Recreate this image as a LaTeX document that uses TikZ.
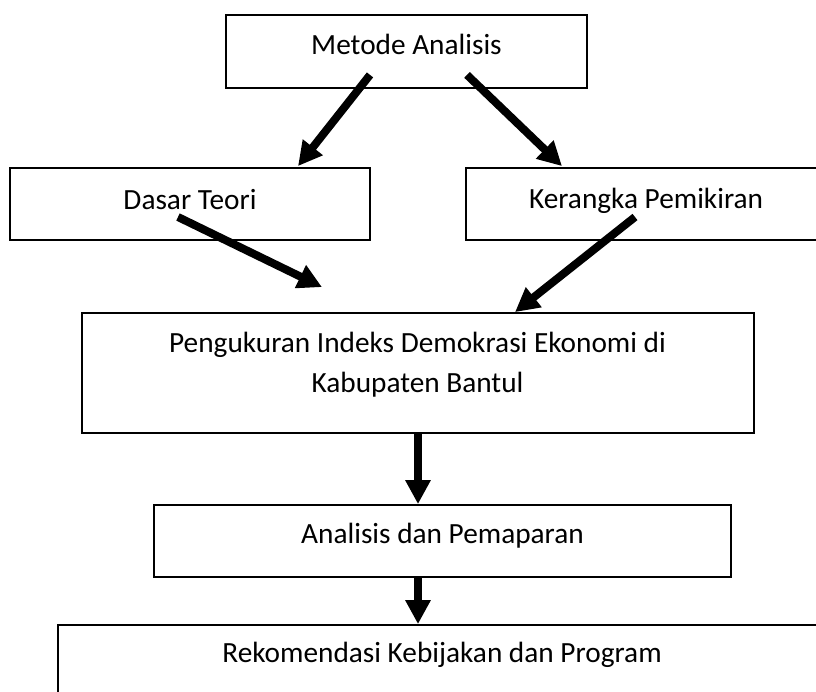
\documentclass[tikz,border=0pt]{standalone}
\usepackage{fontspec}
\setmainfont{Carlito}
\usetikzlibrary{arrows.meta}
\begin{document}
\begin{tikzpicture}[x=1pt,y=-1pt,
  box/.style={draw=black, line width=1.8pt, inner sep=0pt, fill=none},
  txt/.style={inner sep=0pt, anchor=base, align=center, font=\fontsize{29.3}{40}\selectfont},
  arr/.style={line width=8pt, -{Triangle[length=24pt,width=24pt]}}]
\path[use as bounding box, clip] (0,0) rectangle (816,691);
\fill[white] (0,0) rectangle (816,691);
% boxes
\node[box, minimum width=361pt, minimum height=73pt] (m) at (406.5,51.5) {};
\node[box, minimum width=360pt, minimum height=72pt] (d) at (190,204) {};
\node[box, minimum width=360pt, minimum height=72pt] (k) at (646,204) {};
\node[box, minimum width=672pt, minimum height=120pt] (p) at (418,373) {};
\node[box, minimum width=577pt, minimum height=72pt] (a) at (442.5,541) {};
\node[box, minimum width=768pt, minimum height=73pt] (r) at (442,661.5) {};
% texts
\node[txt] (mt) at (406.5,54) {Metode Analisis};
\node[txt] (dt) at (190,209) {Dasar Teori};
\node[txt] (kt) at (646,208) {Kerangka Pemikiran};
\node[txt] (pt) at (417.5,392) {Pengukuran Indeks Demokrasi Ekonomi di\\Kabupaten Bantul};
\node[txt] (at) at (442.5,543) {Analisis dan Pemaparan};
\node[txt] (rt) at (442,662) {Rekomendasi Kebijakan dan Program};
% arrows
\draw[arr] ([shift={(-36.5,-14)}]m.south) -- ([shift={(108,-1)}]d.north);
\draw[arr] ([shift={(60.5,-14)}]m.south) -- ([shift={(-84,-1)}]k.north);
\draw[arr] ([shift={(-12,13)}]d.center) -- ([shift={(-96,-25)}]p.north);
\draw[arr] ([shift={(-11,13)}]k.center) -- ([shift={(97,0)}]p.north);
\draw[arr] (p.south) -- (p.south |- a.north);
\draw[arr] (p.south |- a.south) -- (p.south |- r.north);
\end{tikzpicture}
\end{document}
